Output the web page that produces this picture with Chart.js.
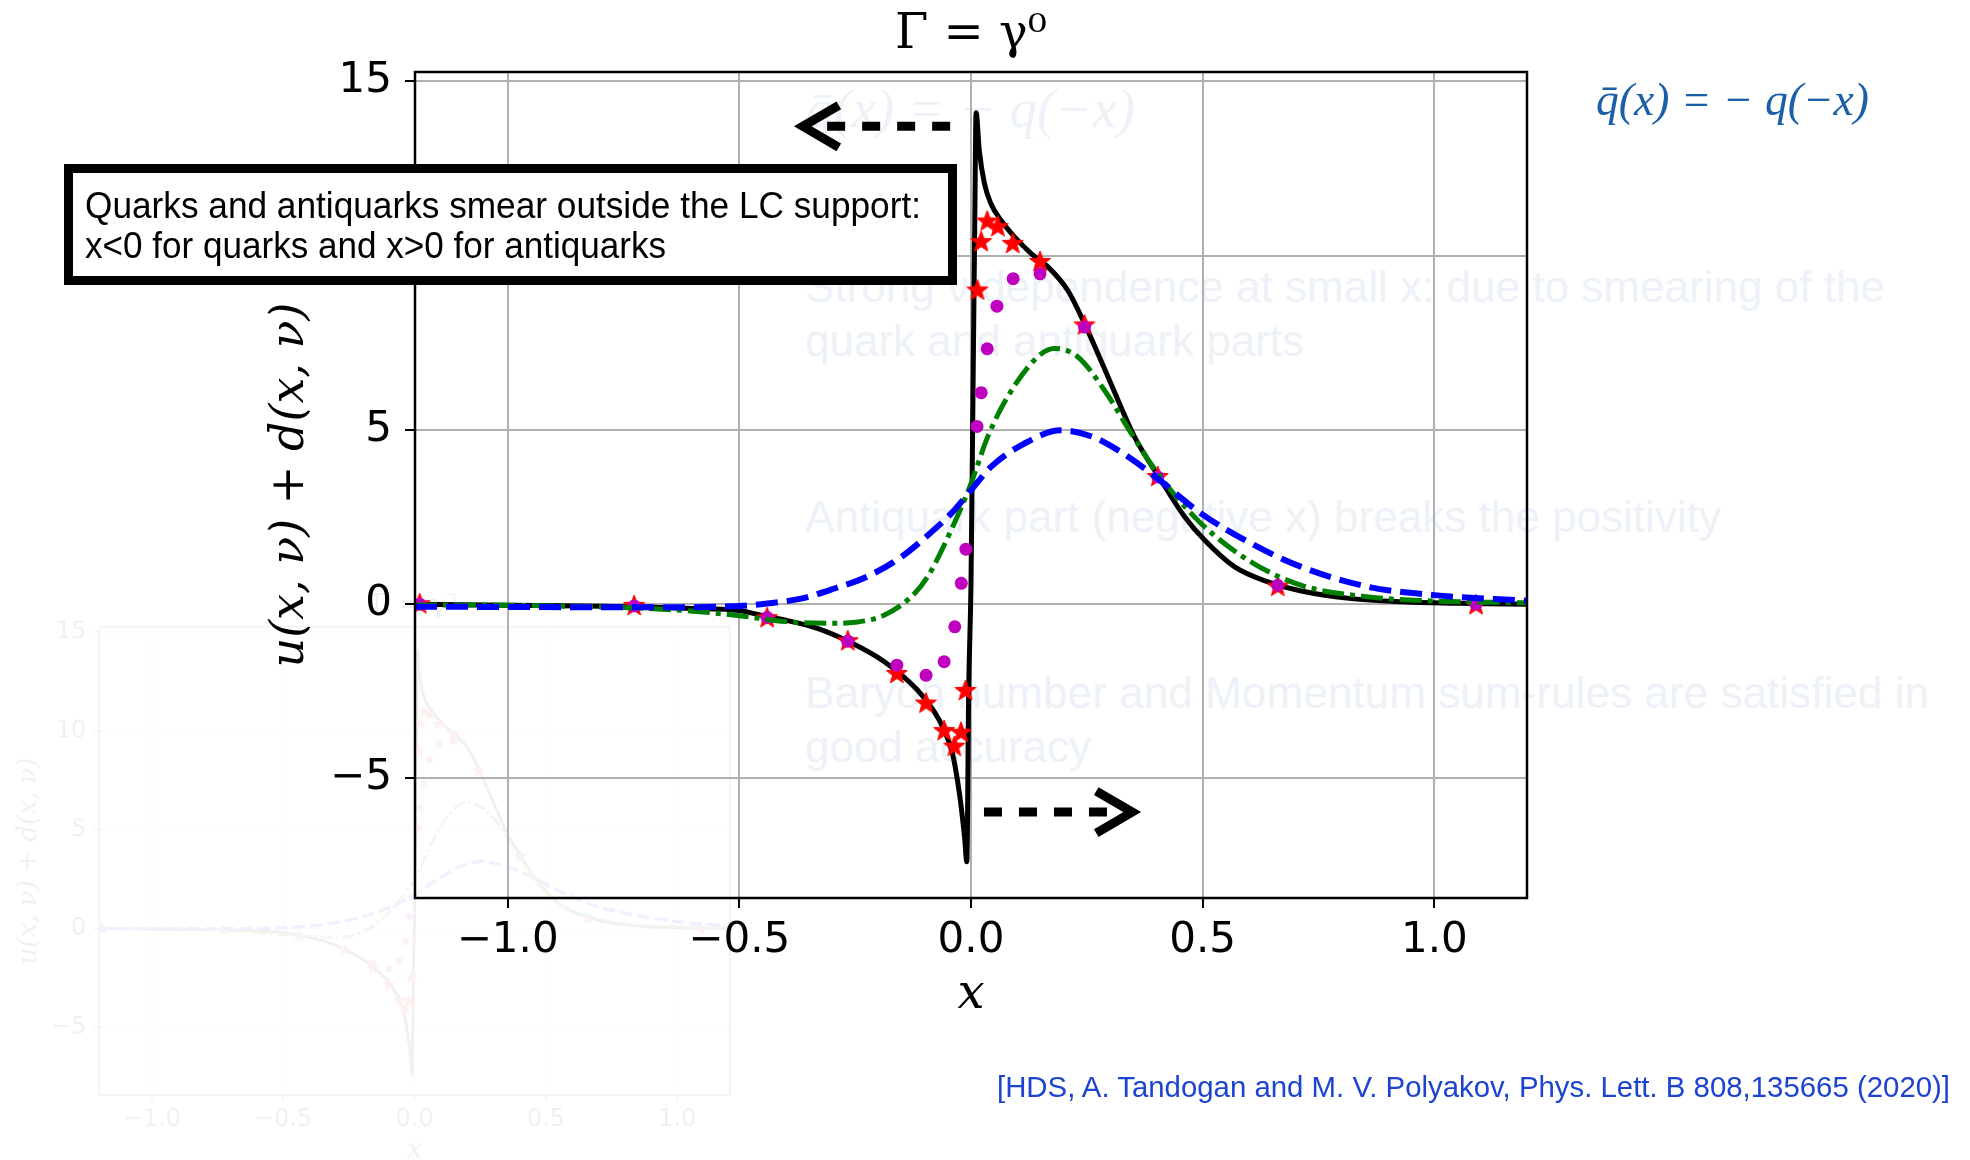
<!DOCTYPE html>
<html lang="en">
<head>
<meta charset="UTF-8">
<title>u(x,ν)+d(x,ν) for Γ = γ⁰</title>
<script src="https://cdn.jsdelivr.net/npm/chart.js"></script>
<style>
    html, body { margin: 0; padding: 0; background: #fff; overflow: hidden; }
    #page { position: relative; width: 1970px; height: 1160px; overflow: hidden; background: #fff; }
    #page > svg, #page > canvas { position: absolute; left: 0; top: 0; }
    #ghostText { z-index: 0; }
    #ghost { z-index: 1; opacity: 0.06; transform-origin: 0 0; transform: translate(-136px, 586px) scale(0.567); }
    #chart { z-index: 2; }
    #notes { z-index: 3; }
    svg text { font-family: 'Liberation Sans', Arial, sans-serif; }
</style>
</head>
<body>
<div id="page">
    <svg id="ghostText" width="1970" height="1160" fill="#edf1f8" font-size="44">
        <text x="806" y="127" font-size="54" font-style="italic" style="font-family:'Liberation Serif',serif" textLength="329" lengthAdjust="spacingAndGlyphs">q̄(x) = − q(−x)</text>
        <text x="805" y="302" textLength="1080" lengthAdjust="spacingAndGlyphs">Strong ν dependence at small x: due to smearing of the</text>
        <text x="805" y="356" textLength="499" lengthAdjust="spacingAndGlyphs">quark and antiquark parts</text>
        <text x="805" y="532" textLength="916" lengthAdjust="spacingAndGlyphs">Antiquark part (negative x) breaks the positivity</text>
        <text x="805" y="708" textLength="1124" lengthAdjust="spacingAndGlyphs">Baryon number and Momentum sum-rules are satisfied in</text>
        <text x="805" y="762" textLength="286" lengthAdjust="spacingAndGlyphs">good accuracy</text>
    </svg>
    <canvas id="ghost" width="1970" height="1160"></canvas>
    <canvas id="chart" width="1970" height="1160"></canvas>
    <svg id="notes" width="1970" height="1160">
        <rect x="68.5" y="168.5" width="884" height="112" fill="#fff" stroke="#000" stroke-width="9"/>
        <text x="85" y="218" font-size="37" fill="#000" textLength="836" lengthAdjust="spacingAndGlyphs">Quarks and antiquarks smear outside the LC support:</text>
        <text x="85" y="258" font-size="37" fill="#000" textLength="581" lengthAdjust="spacingAndGlyphs">x&lt;0 for quarks and x&gt;0 for antiquarks</text>
        <text x="1596" y="115" font-size="46" font-style="italic" fill="#1a5fa8" style="font-family:'Liberation Serif',serif" textLength="273" lengthAdjust="spacingAndGlyphs">q̄(x) = − q(−x)</text>
        <text x="997" y="1097" font-size="29" fill="#1d43d1" textLength="953" lengthAdjust="spacingAndGlyphs">[HDS, A. Tandogan and M. V. Polyakov, Phys. Lett. B 808,135665 (2020)]</text>
    </svg>
</div>

<script>
// axes
const xTicks = [-1, -0.5, 0, 0.5, 1];
const yTicks = [-5, 0, 5, 10, 15];
const xRange = [-1.2, 1.2];
const yRange = [-8.43, 15.27];

// solid black curve
const blackX = [-1.2, -1.0, -0.8, -0.69, -0.6, -0.5, -0.44, -0.4, -0.33, -0.266, -0.187, -0.115, -0.079, -0.058, -0.04, -0.025, -0.014, -0.009,
    -0.005, 0.0, 0.005, 0.008, 0.011, 0.018, 0.029, 0.043, 0.065, 0.094, 0.13, 0.166, 0.209, 0.245, 0.29, 0.353, 0.41, 0.461, 0.504,
    0.569, 0.641, 0.713, 0.821, 0.929, 1.073, 1.2];
const blackY = [0.0, -0.03, -0.06, -0.09, -0.12, -0.18, -0.36, -0.46, -0.70, -1.06, -1.65, -2.47, -3.09, -3.61, -4.28, -5.43, -6.67, -7.39,
    -2.5, 0.6, 7.0, 10.8, 14.1, 13.0, 12.07, 11.49, 11.01, 10.54, 10.06, 9.68, 9.0, 8.05, 6.7, 4.8, 3.56, 2.51, 1.84,
    1.07, 0.64, 0.38, 0.16, 0.07, 0.02, 0.0];

// green dash-dot curve
const greenX = [-1.2, -1.0, -0.8, -0.7, -0.6, -0.5, -0.4, -0.3, -0.25, -0.19, -0.13, -0.094, -0.043, 0.0, 0.036, 0.079, 0.144, 0.18,
    0.23, 0.288, 0.346, 0.403, 0.497, 0.605, 0.713, 0.857, 1.0, 1.2];
const greenY = [-0.02, -0.03, -0.08, -0.12, -0.2, -0.33, -0.5, -0.55, -0.52, -0.33, 0.2, 0.78, 2.12, 3.46, 4.8, 5.95, 7.1, 7.34,
    7.1, 6.14, 4.9, 3.75, 2.31, 1.21, 0.54, 0.21, 0.09, 0.04];

// blue dashed curve
const blueX = [-1.2, -1.0, -0.7, -0.5, -0.44, -0.367, -0.295, -0.223, -0.151, -0.1, -0.043, 0.0, 0.043, 0.115, 0.194, 0.259, 0.317,
    0.389, 0.497, 0.605, 0.713, 0.857, 1.0, 1.2];
const blueY = [-0.07, -0.08, -0.09, -0.05, 0.02, 0.16, 0.45, 0.8, 1.35, 1.9, 2.6, 3.27, 3.94, 4.61, 4.99, 4.82, 4.42,
    3.75, 2.6, 1.74, 1.07, 0.5, 0.26, 0.1];

// red stars
const starX = [-1.19, -0.727, -0.44, -0.266, -0.16, -0.097, -0.058, -0.036, -0.0216, -0.012, 0.014, 0.022, 0.035, 0.058, 0.09, 0.149,
    0.245, 0.403, 0.662, 1.09];
const starY = [0.0, -0.05, -0.4, -1.06, -2.0, -2.85, -3.64, -4.09, -3.69, -2.49, 9.0, 10.39, 10.98, 10.82, 10.34, 9.82,
    8.0, 3.65, 0.5, -0.03];

// magenta dots
const dotX = [-1.19, -0.727, -0.44, -0.266, -0.16, -0.097, -0.058, -0.035, -0.021, -0.011, 0.013, 0.022, 0.035, 0.056, 0.091, 0.149,
    0.245, 0.403, 0.662, 1.09];
const dotY = [0.0, -0.05, -0.38, -1.06, -1.75, -2.04, -1.65, -0.65, 0.6, 1.58, 5.1, 6.07, 7.33, 8.55, 9.34, 9.48,
    7.95, 3.65, 0.54, 0.0];

// faded Γ = γ³ panel behind (green / blue differ)
const ghostGreenX = [-1.2, -0.8, -0.5, -0.3, -0.15, 0.0, 0.1, 0.2, 0.3, 0.4, 0.5, 0.7, 1.0, 1.2];
const ghostGreenY = [0.0, -0.05, -0.3, -0.45, 0.2, 2.5, 5.2, 6.4, 5.6, 3.6, 1.8, 0.5, 0.1, 0.05];
const ghostBlueX = [-1.2, -0.8, -0.5, -0.3, -0.15, 0.0, 0.1, 0.25, 0.4, 0.55, 0.7, 1.0, 1.2];
const ghostBlueY = [0.0, 0.0, 0.05, 0.3, 0.8, 1.7, 2.6, 3.4, 2.9, 1.9, 1.1, 0.35, 0.15];

const arrows = [
    {from: [-0.045, 13.71], to: [-0.363, 13.71]},
    {from: [0.028, -5.965], to: [0.348, -5.965]}
];

function pts(xs, ys) {
    return xs.map((x, i) => ({x: x, y: ys[i]}));
}

function minus(s) {
    return s.replace('-', '\u2212');
}

function makeStar(r, color) {
    const c = document.createElement('canvas');
    const s = Math.ceil(r * 2 + 2);
    c.width = s; c.height = s;
    const g = c.getContext('2d');
    g.translate(s / 2, s / 2);
    g.beginPath();
    for (let i = 0; i < 10; i++) {
        const a = -Math.PI / 2 + i * Math.PI / 5;
        const rr = i % 2 ? r * 0.42 : r;
        g.lineTo(rr * Math.cos(a), rr * Math.sin(a));
    }
    g.closePath();
    g.fillStyle = color;
    g.strokeStyle = color;
    g.lineWidth = 1;
    g.fill();
    g.stroke();
    return c;
}
const starImg = makeStar(11, '#ff0000');

const framePlugin = {
    id: 'frame',
    afterDatasetsDraw(chart) {
        const a = chart.chartArea, c = chart.ctx;
        c.save();
        c.strokeStyle = '#000';
        c.lineWidth = 2.5;
        c.strokeRect(a.left, a.top, a.right - a.left, a.bottom - a.top);
        c.restore();
    }
};

const arrowPlugin = {
    id: 'arrows',
    afterDraw(chart, args, opts) {
        const xs = chart.scales.x, ys = chart.scales.y, c = chart.ctx;
        (opts.items || []).forEach(a => {
            const x0 = xs.getPixelForValue(a.from[0]), y0 = ys.getPixelForValue(a.from[1]);
            const x1 = xs.getPixelForValue(a.to[0]), y1 = ys.getPixelForValue(a.to[1]);
            const ang = Math.atan2(y1 - y0, x1 - x0);
            const L = 36, W = 21;
            c.save();
            c.strokeStyle = '#000';
            c.lineWidth = 9;
            c.setLineDash([18, 17]);
            c.beginPath();
            c.moveTo(x0, y0);
            c.lineTo(x1 - 4 * Math.cos(ang), y1 - 4 * Math.sin(ang));
            c.stroke();
            c.setLineDash([]);
            const bx = x1 - L * Math.cos(ang), by = y1 - L * Math.sin(ang);
            c.beginPath();
            c.moveTo(bx - W * Math.sin(ang), by + W * Math.cos(ang));
            c.lineTo(x1, y1);
            c.lineTo(bx + W * Math.sin(ang), by - W * Math.cos(ang));
            c.stroke();
            c.restore();
        });
    }
};

function buildChart(id, title, gx, gy, bx, by, arrowItems) {
    return new Chart(document.getElementById(id), {
        type: 'line',
        data: {
            datasets: [
                { label: 'blue', data: pts(bx, by), borderColor: '#0000ff', borderWidth: 6, borderDash: [22, 9],
                  pointRadius: 0, cubicInterpolationMode: 'monotone', fill: false },
                { label: 'green', data: pts(gx, gy), borderColor: '#008000', borderWidth: 5, borderDash: [22, 6, 5, 6],
                  pointRadius: 0, cubicInterpolationMode: 'monotone', fill: false },
                { label: 'magenta', data: pts(dotX, dotY), showLine: false, pointStyle: 'circle', pointRadius: 6.5,
                  pointBackgroundColor: '#bf00bf', pointBorderWidth: 0 },
                { label: 'stars', data: pts(starX, starY), showLine: false, pointStyle: starImg, pointRadius: 10 },
                { label: 'black', data: pts(blackX, blackY), borderColor: '#000000', borderWidth: 5,
                  pointRadius: 0, cubicInterpolationMode: 'monotone', borderJoinStyle: 'round', fill: false }
            ]
        },
        options: {
            responsive: false,
            animation: false,
            devicePixelRatio: 1,
            events: [],
            layout: { padding: { left: 0, right: 443, top: 0, bottom: 0 } },
            plugins: {
                legend: { display: false },
                tooltip: { enabled: false },
                title: {
                    display: true, text: title, color: '#000', fullSize: false,
                    font: { family: 'DejaVu Serif', size: 48, weight: 'normal' },
                    padding: { top: 7, bottom: 7.4 }
                },
                arrows: { items: arrowItems }
            },
            scales: {
                x: {
                    type: 'linear', min: xRange[0], max: xRange[1],
                    afterBuildTicks: s => { s.ticks = xTicks.map(v => ({value: v})); },
                    afterFit: s => { s.height = 262; },
                    border: { display: false },
                    grid: { color: '#b0b0b0', lineWidth: 2, tickLength: 10, tickColor: '#000', tickWidth: 2 },
                    ticks: { color: '#000', font: { family: 'DejaVu Sans', size: 42 }, padding: 8, maxRotation: 0,
                             autoSkip: false, callback: v => minus(v.toFixed(1)) },
                    title: { display: true, text: 'x', color: '#000',
                             font: { family: 'DejaVu Serif', size: 48, style: 'italic' }, padding: { top: 0, bottom: 136 } }
                },
                y: {
                    type: 'linear', min: yRange[0], max: yRange[1],
                    afterBuildTicks: s => { s.ticks = yTicks.map(v => ({value: v})); },
                    afterFit: s => { s.width = 415; },
                    border: { display: false },
                    grid: { color: '#b0b0b0', lineWidth: 2, tickLength: 10, tickColor: '#000', tickWidth: 2 },
                    ticks: { color: '#000', font: { family: 'DejaVu Sans', size: 42 }, padding: 13,
                             autoSkip: false, callback: v => minus(String(v)) },
                    title: { display: true, text: 'u(x, ν) + d(x, ν)', color: '#000',
                             font: { family: 'DejaVu Serif', size: 46, style: 'italic' }, padding: { top: 263, bottom: 0 } }
                }
            }
        },
        plugins: [framePlugin, arrowPlugin]
    });
}

buildChart('ghost', 'Γ = γ³', ghostGreenX, ghostGreenY, ghostBlueX, ghostBlueY, []);
buildChart('chart', 'Γ = γ⁰', greenX, greenY, blueX, blueY, arrows);
</script>
</body>
</html>
